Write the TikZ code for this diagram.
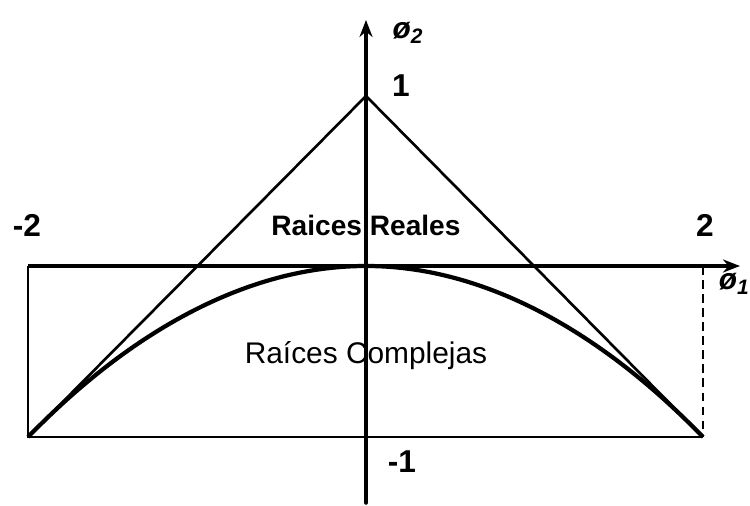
\documentclass[tikz,border=0pt]{standalone}
\usepackage{fontspec}
\setmainfont{Liberation Sans}
\usetikzlibrary{arrows.meta,positioning}

\begin{document}
\begin{tikzpicture}[x=0.02cm,y=-0.02cm,
 edge/.style={draw=black,line width=1.5pt},
 axis/.style={draw=black,line width=2pt,-{Stealth[length=3.4mm,width=2.6mm]}},
 num/.style={font=\bfseries\fontsize{18}{20}\selectfont,inner sep=0pt},
 var/.style={font=\bfseries\itshape\fontsize{17}{19}\selectfont,inner sep=0pt}]
\useasboundingbox (0,0) rectangle (750,506);
\coordinate (left) at (28,437);
\coordinate (right) at (703,437);
\coordinate (top) at (366,96);
\coordinate (origin) at (366,266);
\coordinate (xstart) at (28,266);
\coordinate (xend) at (740,266);
\coordinate (corner) at (703,266);
\coordinate (ystart) at (366,503);
\coordinate (yend) at (366,20);
% rectangle and triangle
\draw[edge] (xstart) -- (left) -- (right);
\draw[edge, dash pattern=on 5pt off 3pt] (corner) -- (right);
\draw[edge] (left) -- (top) -- (right);
% parabola
\draw[line width=2.4pt] (left) parabola bend (origin) (right);
% axes
\draw[axis] (xstart) -- (xend);
\draw[axis, line cap=round] (ystart) -- (yend);
% labels
\node[num] (mtwo) at (27,225) {-2};
\node[num] (two) at (705,225) {2};
\node[num] (one) at (401,86) {1};
\node[num] (mone) at (402,462) {-1};
\node[var] (phitwo) at (408,33) {ø\textsubscript{2}};
\node[var, anchor=east] (phione) at (750,284) {ø\textsubscript{1}};
\node[font=\bfseries\fontsize{16}{18}\selectfont] (real) at (366,225) {Raices Reales};
\node[font=\fontsize{17}{19}\selectfont] (cplx) at (366,356) {Raíces Complejas};
\end{tikzpicture}
\end{document}
